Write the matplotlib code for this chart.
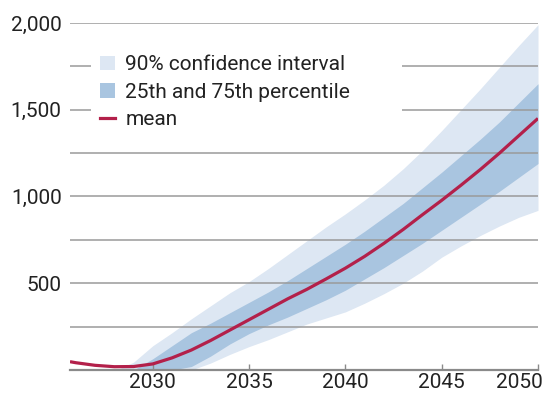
import numpy as np
import matplotlib
matplotlib.use("Agg")
import matplotlib.pyplot as plt
import matplotlib.transforms as mtransforms
from matplotlib.patches import Patch, Rectangle
from matplotlib.lines import Line2D

plt.rcParams["font.family"] = ["Roboto", "DejaVu Sans"]

# Projection: mean with 25th-75th percentile and 90% confidence bands
mean_years = [2025.7, 2026, 2027, 2028, 2029, 2030, 2031, 2032, 2033, 2034, 2035,
              2036, 2037, 2038, 2039, 2040, 2041, 2042, 2043, 2044, 2045,
              2046, 2047, 2048, 2049, 2050]
mean_vals = [48, 42, 27, 19, 20, 35, 70, 115, 170, 230, 290,
             350, 410, 465, 525, 587, 655, 730, 810, 895, 978,
             1065, 1155, 1250, 1350, 1450]

ci_years = [2028.1, 2029, 2030, 2031, 2032, 2033, 2034, 2035, 2036, 2037, 2038,
            2039, 2040, 2041, 2042, 2043, 2044, 2045, 2046, 2047, 2048, 2049, 2050]
ci_upper = [0, 45, 140, 215, 295, 370, 445, 510, 585, 665, 745,
            825, 900, 980, 1065, 1160, 1265, 1380, 1500, 1620, 1745, 1870, 1990]
ci_lower = [0, 0, 0, 0, 0, 40, 90, 135, 175, 220, 265,
            300, 335, 385, 440, 500, 570, 650, 715, 775, 830, 880, 920]

iqr_years = [2029, 2030, 2031, 2032, 2033, 2034, 2035, 2036, 2037, 2038, 2039,
             2040, 2041, 2042, 2043, 2044, 2045, 2046, 2047, 2048, 2049, 2050]
p75 = [0, 65, 140, 215, 270, 330, 390, 450, 515, 585, 655,
       725, 800, 880, 960, 1050, 1140, 1235, 1330, 1430, 1540, 1650]
p25 = [0, 0, 0, 20, 80, 150, 210, 260, 305, 355, 405,
       460, 525, 590, 660, 730, 805, 880, 955, 1030, 1110, 1190]

grid_levels = [250, 500, 750, 1000, 1250, 1500, 1750, 2000]
y_ticks = [500, 1000, 1500, 2000]
y_tick_labels = ["500", "1,000", "1,500", "2,000"]
x_ticks = [2030, 2035, 2040, 2045, 2050]
legend_labels = ["90% confidence interval", "25th and 75th percentile", "mean"]

light_blue = "#dde7f3"
mid_blue = "#a9c5e0"
crimson = "#b3204a"
grid_grey = "#9a9a9a"
text_col = "#222222"
fs = 15

fig = plt.figure(figsize=(5.47, 3.97), dpi=100)
ax = fig.add_axes([70 / 547, 27 / 397, 468 / 547, 347 / 397])

ax.fill_between(ci_years, ci_lower, ci_upper, color=light_blue, lw=0, zorder=1)
ax.fill_between(iqr_years, p25, p75, color=mid_blue, lw=0, zorder=1.5)
for g in grid_levels:
    ax.axhline(g, color=grid_grey, lw=1.1, zorder=2)
ax.plot(mean_years, mean_vals, color=crimson, lw=2.3, zorder=3,
        solid_capstyle="butt")

ax.set_xlim(2025.7, 2050)
ax.set_ylim(0, 2000)
ax.set_yticks(y_ticks)
ax.set_yticklabels(y_tick_labels)
ax.set_xticks(x_ticks)
ax.set_xticklabels([str(x) for x in x_ticks])

for side in ("top", "right", "left"):
    ax.spines[side].set_visible(False)
ax.spines["bottom"].set_color("#8a8a8a")
ax.spines["bottom"].set_linewidth(1.6)
ax.spines["bottom"].set_zorder(4)
ax.tick_params(axis="y", length=0, pad=6, labelsize=fs, labelcolor=text_col)
ax.tick_params(axis="x", direction="in", length=4, width=1, color="#8a8a8a",
               pad=2, labelsize=fs, labelcolor=text_col)

# keep the last year label inside the canvas
last = ax.get_xticklabels()[-1]
last.set_horizontalalignment("right")
last.set_transform(last.get_transform() +
                   mtransforms.ScaledTranslation(5 / 100, 0, fig.dpi_scale_trans))

# white panel behind the legend, interrupting the gridlines
fig.patches.append(Rectangle((91 / 547, 1 - 133 / 397), (402 - 91) / 547, (133 - 44) / 397,
                             transform=fig.transFigure, facecolor="white",
                             edgecolor="none", zorder=4))

handles = [Patch(facecolor=light_blue, edgecolor="none"),
           Patch(facecolor=mid_blue, edgecolor="none"),
           Line2D([0], [0], color=crimson, lw=2.3)]
leg = fig.legend(handles, legend_labels, loc="upper left",
                 bbox_to_anchor=(96 / 547, 1 - 51 / 397), bbox_transform=fig.transFigure,
                 frameon=False, fontsize=fs, handlelength=0.7, handleheight=0.7,
                 handletextpad=0.5, labelspacing=0.4, borderpad=0.2, borderaxespad=0)
leg.set_zorder(5)
for t in leg.get_texts():
    t.set_color(text_col)

fig.savefig("out.png", dpi=100)
